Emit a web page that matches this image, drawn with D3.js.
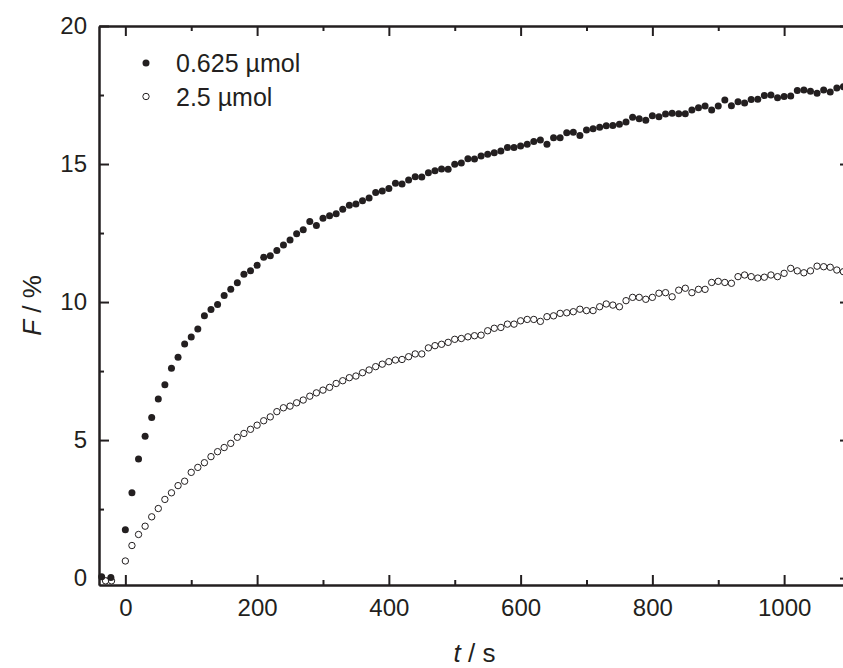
<!DOCTYPE html>
<html>
<head>
<meta charset="utf-8">
<script src="https://cdn.jsdelivr.net/npm/d3@7"></script>
<style>
    body { margin: 0; background: #fff; }
    text { font-family: "Liberation Sans", Arial, sans-serif; fill: #231f20; }
</style>
</head>
<body>
<div id="chart"></div>
<script>

// ----- DATA -----

var seriesNames = ["0.625 \u00b5mol", "2.5 \u00b5mol"];

// baseline points recorded before injection
var preTimesLow = [-36, -22];
var preValuesLow = [0.05, 0.02];
var preTimesHigh = [-30, -21];
var preValuesHigh = [-0.1, -0.1];

// sampling times after injection (every 10 s)
var times = d3.range(0, 1100, 10);

var valuesLow = [
    1.75, 3.09, 4.31, 5.14, 5.82, 6.49, 7.0, 7.6, 8.0, 8.48,
    8.73, 9.02, 9.5, 9.73, 9.91, 10.24, 10.46, 10.7, 11.01, 11.13,
    11.33, 11.62, 11.68, 11.87, 12.07, 12.25, 12.47, 12.62, 12.92, 12.77,
    13.04, 13.13, 13.2, 13.36, 13.51, 13.55, 13.67, 13.77, 13.97, 14.02,
    14.11, 14.3, 14.28, 14.42, 14.54, 14.53, 14.68, 14.76, 14.82, 14.81,
    14.99, 15.04, 15.19, 15.18, 15.29, 15.35, 15.41, 15.47, 15.6, 15.6,
    15.65, 15.72, 15.82, 15.87, 15.72, 15.95, 15.95, 16.13, 16.15, 16.03,
    16.23, 16.28, 16.33, 16.39, 16.4, 16.44, 16.52, 16.69, 16.64, 16.59,
    16.75, 16.71, 16.81, 16.84, 16.82, 16.82, 16.96, 17.04, 17.1, 16.96,
    17.1, 17.32, 17.11, 17.26, 17.21, 17.34, 17.35, 17.48, 17.5, 17.4,
    17.45, 17.46, 17.66, 17.68, 17.64, 17.56, 17.68, 17.61, 17.75, 17.8
];

var valuesHigh = [
    0.62, 1.18, 1.58, 1.88, 2.22, 2.52, 2.85, 3.09, 3.35, 3.51,
    3.83, 4.01, 4.18, 4.4, 4.58, 4.73, 4.88, 5.1, 5.24, 5.39,
    5.54, 5.7, 5.84, 6.03, 6.17, 6.23, 6.35, 6.45, 6.59, 6.71,
    6.81, 6.91, 7.05, 7.15, 7.26, 7.32, 7.44, 7.54, 7.66, 7.75,
    7.84, 7.9, 7.92, 8.02, 8.12, 8.12, 8.34, 8.42, 8.47, 8.54,
    8.65, 8.68, 8.74, 8.78, 8.8, 8.96, 9.05, 9.08, 9.2, 9.2,
    9.32, 9.37, 9.37, 9.3, 9.47, 9.5, 9.59, 9.61, 9.65, 9.74,
    9.69, 9.69, 9.83, 9.93, 9.89, 9.83, 10.05, 10.17, 10.17, 10.1,
    10.17, 10.32, 10.34, 10.19, 10.43, 10.5, 10.34, 10.46, 10.46, 10.71,
    10.75, 10.71, 10.68, 10.92, 10.98, 10.92, 10.87, 10.9, 10.98, 10.92,
    11.04, 11.22, 11.13, 11.06, 11.13, 11.3, 11.28, 11.26, 11.16, 11.1
];

var xMajorTicks = [0, 200, 400, 600, 800, 1000];
var xMinorTicks = [100, 300, 500, 700, 900];
var yMajorTicks = [0, 5, 10, 15, 20];
var yMinorTicks = [2.5, 7.5, 12.5, 17.5];

// ----- LAYOUT -----

var width = 843, height = 668;
var plotLeft = 99, plotRight = 850, plotTop = 26, plotBottom = 585;
var ink = "#231f20";

var svg = d3.select("#chart").append("svg")
    .attr("width", width)
    .attr("height", height);

var x = d3.scaleLinear().domain([-40, 1100]).range([plotLeft, plotRight]);
var y = d3.scaleLinear().domain([-0.25, 20]).range([plotBottom, plotTop]);
var fmt = d3.format("d");

// ----- AXES -----

function styleAxis(g) {
    g.selectAll(".domain").attr("stroke", ink).attr("stroke-width", 2);
    g.selectAll(".tick line").attr("stroke", ink).attr("stroke-width", 2);
    g.selectAll(".tick text").style("font-size", "24px").attr("fill", ink);
}

// bottom
svg.append("g")
    .attr("transform", "translate(0," + plotBottom + ")")
    .call(d3.axisBottom(x).tickValues(xMajorTicks).tickFormat(fmt).tickSize(-10).tickPadding(14).tickSizeOuter(0))
    .call(styleAxis);
svg.append("g")
    .attr("transform", "translate(0," + plotBottom + ")")
    .call(d3.axisBottom(x).tickValues(xMinorTicks).tickSize(-5).tickFormat("").tickSizeOuter(0))
    .call(styleAxis);

// top
svg.append("g")
    .attr("transform", "translate(0," + plotTop + ")")
    .call(d3.axisTop(x).tickValues(xMajorTicks).tickSize(-10).tickFormat("").tickSizeOuter(0))
    .call(styleAxis);
svg.append("g")
    .attr("transform", "translate(0," + plotTop + ")")
    .call(d3.axisTop(x).tickValues(xMinorTicks).tickSize(-5).tickFormat("").tickSizeOuter(0))
    .call(styleAxis);

// left
svg.append("g")
    .attr("transform", "translate(" + plotLeft + ",0)")
    .call(d3.axisLeft(y).tickValues(yMajorTicks).tickFormat(fmt).tickSize(-10).tickPadding(12).tickSizeOuter(0))
    .call(styleAxis);
svg.append("g")
    .attr("transform", "translate(" + plotLeft + ",0)")
    .call(d3.axisLeft(y).tickValues(yMinorTicks).tickSize(-5).tickFormat("").tickSizeOuter(0))
    .call(styleAxis);

// right
svg.append("g")
    .attr("transform", "translate(" + plotRight + ",0)")
    .call(d3.axisRight(y).tickValues(yMajorTicks).tickSize(-10).tickFormat("").tickSizeOuter(0))
    .call(styleAxis);
svg.append("g")
    .attr("transform", "translate(" + plotRight + ",0)")
    .call(d3.axisRight(y).tickValues(yMinorTicks).tickSize(-5).tickFormat("").tickSizeOuter(0))
    .call(styleAxis);

// ----- AXIS TITLES -----

var xTitle = svg.append("text")
    .attr("x", (plotLeft + plotRight) / 2)
    .attr("y", 662)
    .attr("text-anchor", "middle")
    .style("font-size", "26px");
xTitle.append("tspan").style("font-style", "italic").text("t");
xTitle.append("tspan").text(" / s");

var yTitle = svg.append("text")
    .attr("transform", "translate(41," + ((plotTop + plotBottom) / 2) + ") rotate(-90)")
    .attr("text-anchor", "middle")
    .style("font-size", "26px");
yTitle.append("tspan").style("font-style", "italic").text("F");
yTitle.append("tspan").text(" / %");

// ----- POINTS -----

var low = preTimesLow.map(function(t, i) { return {t: t, v: preValuesLow[i]}; })
    .concat(times.map(function(t, i) { return {t: t, v: valuesLow[i]}; }));
var high = preTimesHigh.map(function(t, i) { return {t: t, v: preValuesHigh[i]}; })
    .concat(times.map(function(t, i) { return {t: t, v: valuesHigh[i]}; }));

svg.append("g").selectAll("circle")
    .data(high)
    .enter().append("circle")
    .attr("cx", function(d) { return x(d.t); })
    .attr("cy", function(d) { return y(d.v); })
    .attr("r", 3.2)
    .attr("fill", "#fff")
    .attr("stroke", ink)
    .attr("stroke-width", 1);

svg.append("g").selectAll("circle")
    .data(low)
    .enter().append("circle")
    .attr("cx", function(d) { return x(d.t); })
    .attr("cy", function(d) { return y(d.v); })
    .attr("r", 3.5)
    .attr("fill", ink);

// ----- LEGEND -----

var legend = svg.append("g");
seriesNames.forEach(function(name, i) {
    var ly = 63 + i * 33.5;
    legend.append("circle")
        .attr("cx", 146)
        .attr("cy", ly)
        .attr("r", i == 0 ? 3.5 : 3.2)
        .attr("fill", i == 0 ? ink : "#fff")
        .attr("stroke", ink)
        .attr("stroke-width", i == 0 ? 0 : 1);
    legend.append("text")
        .attr("x", 176)
        .attr("y", ly + 9)
        .style("font-size", "25px")
        .text(name);
});

</script>
</body>
</html>
